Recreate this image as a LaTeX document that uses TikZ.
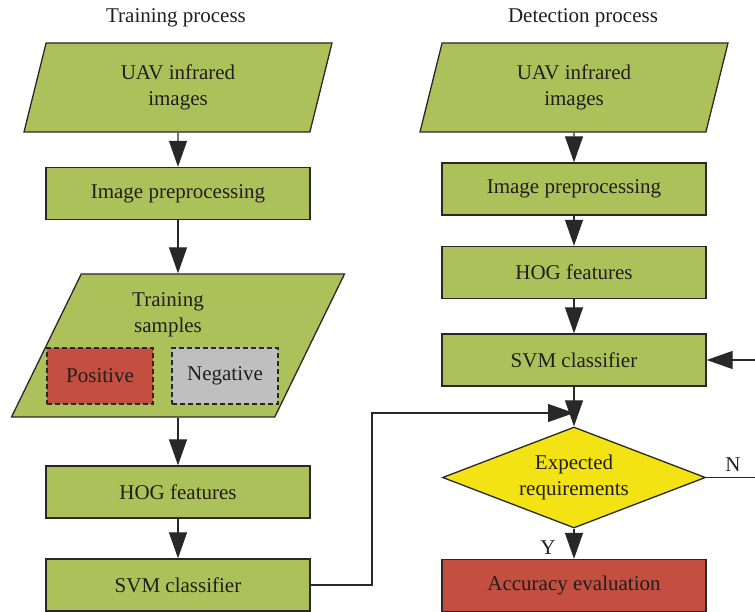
\documentclass[tikz,border=0pt]{standalone}
\usepackage{fontspec}
\setmainfont{Liberation Serif}
\usetikzlibrary{arrows.meta,shapes.geometric}
\definecolor{boxgreen}{RGB}{173,193,90}
\definecolor{boxred}{RGB}{196,79,65}
\definecolor{boxgray}{RGB}{191,191,191}
\definecolor{boxyellow}{RGB}{243,226,20}
\definecolor{edgegray}{RGB}{40,40,40}
\definecolor{inkgray}{RGB}{32,30,30}
\begin{document}
\begin{tikzpicture}[x=1pt,y=-1pt,font=\fontsize{21}{26}\selectfont,text=inkgray,
  >={Triangle[length=26pt,width=18pt]},
  link/.style={draw=edgegray,line width=1.2pt,->},
  box/.style={draw=edgegray,line width=1.3pt,fill=boxgreen,minimum width=264pt,minimum height=52pt,inner sep=0pt},
  iobox/.style={draw=edgegray,line width=1.3pt,fill=boxgreen,shape=trapezium,trapezium left angle=64,trapezium right angle=116,trapezium stretches body,inner sep=0pt,align=center},
  samplebox/.style={draw=edgegray,line width=1.3pt,dash pattern=on 5pt off 3pt,minimum width=106pt,minimum height=56pt,inner sep=0pt},
  decbox/.style={draw=edgegray,line width=1.3pt,fill=boxyellow,shape=diamond,aspect=2.6,minimum width=263pt,minimum height=101pt,inner sep=0pt,align=center}]
  \useasboundingbox (0,0) rectangle (755,612);
  \clip (0,0) rectangle (755,612);
  % training column
  \node (ttitle) at (176,18) {Training process};
  \node[iobox,minimum width=308pt,minimum height=89pt] (in1) at (178,87.5) {UAV infrared\\images};
  \node[box] (pre1) at (178,193.5) {Image preprocessing};
  \node[iobox,minimum width=333pt,minimum height=143pt] (samples) at (178,345.5) {\rule{0pt}{143pt}};
  \node[align=center] (samptext) at (168,315) {Training\\samples};
  \node[samplebox,fill=boxred] (pos) at (100,376) {Positive};
  \node[samplebox,fill=boxgray] (neg) at (225,376) {Negative};
  \node[box] (hog1) at (178,492) {HOG features};
  \node[box] (svm1) at (178,585) {SVM classifier};
  \draw[link] (in1) -- (pre1);
  \draw[link] (pre1) -- (samples);
  \draw[link] (samples) -- (hog1);
  \draw[link] (hog1) -- (svm1);
  % detection column
  \node (dtitle) at (583,18) {Detection process};
  \node[iobox,minimum width=308pt,minimum height=89pt] (in2) at (574,87.5) {UAV infrared\\images};
  \node[box] (pre2) at (574,189) {Image preprocessing};
  \node[box] (hog2) at (574,272.5) {HOG features};
  \node[box] (svm2) at (574,360) {SVM classifier};
  \node[decbox] (dec) at (574,477.5) {Expected\\requirements};
  \node[box,fill=boxred] (acc) at (574,585.5) {Accuracy evaluation};
  \node (ylab) at (548,548) {Y};
  \node (nlab) at (733,465) {N};
  \draw[link] (in2) -- (pre2);
  \draw[link] (pre2) -- (hog2);
  \draw[link] (hog2) -- (svm2);
  \draw[link] (svm2) -- (dec);
  \draw[link] (dec) -- (acc);
  \draw[link] (dec.east) -- ++(60,0) |- (svm2.east);
  % trained model into the detection branch
  \coordinate (bend) at (372,413);
  \coordinate (join) at (574,413);
  \draw[link] (svm1.east) -| (bend) -- (join);
\end{tikzpicture}
\end{document}
